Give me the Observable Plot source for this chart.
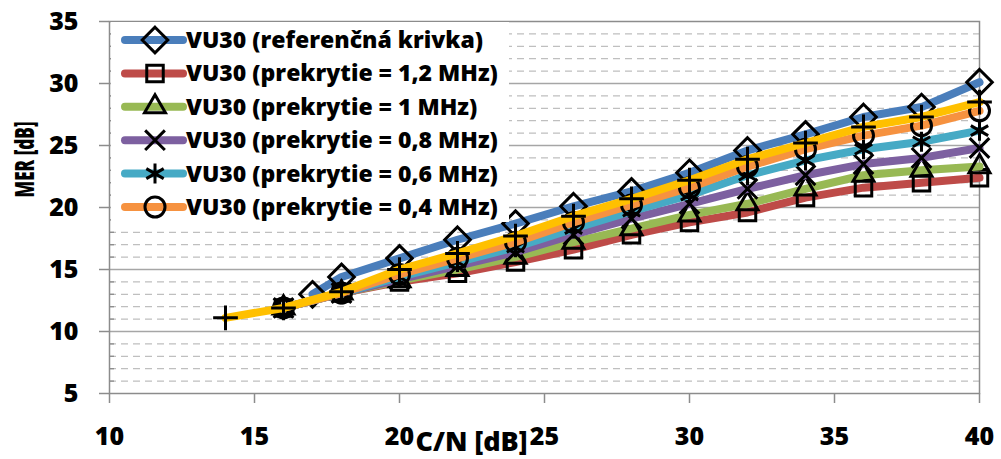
<!DOCTYPE html>
<html><head><meta charset="utf-8">
<script src="https://cdn.jsdelivr.net/npm/d3@7"></script>
<script src="https://cdn.jsdelivr.net/npm/@observablehq/plot@0.6"></script>
<style>
body{margin:0;background:#fff;}
#wrap{position:relative;width:1001px;height:459px;font-family:"Open Sans",sans-serif;font-weight:700;}
#legend{position:absolute;left:111px;top:22px;width:398px;height:200px;background:#fff;}
</style></head><body><div id="wrap"><div id="legend"></div></div>
<script>
// ---- data ----
const seriesNames = [
  "VU30 (referenčná krivka)",
  "VU30 (prekrytie = 1,2 MHz)",
  "VU30 (prekrytie = 1 MHz)",
  "VU30 (prekrytie = 0,8 MHz)",
  "VU30 (prekrytie = 0,6 MHz)",
  "VU30 (prekrytie = 0,4 MHz)",
  "VU30 (séria 7)"
];
const inLegend = [true, true, true, true, true, true, false];
const seriesColors = ["#4a7ebb", "#be4b48", "#98b954", "#7d60a0", "#46aac5", "#f69240", "#ffc000"];
const seriesSymbols = ["diamond2", "square2", "triangle2", "times", "asterisk", "circle", "plus"];

const cnRef   = [17, 18, 20, 22, 24, 26, 28, 30, 32, 34, 36, 38, 40];
const merRef  = [13.0, 14.4, 15.9, 17.4, 18.7, 20.1, 21.3, 22.8, 24.6, 25.9, 27.3, 28.1, 30.1];
const cnOver  = [16, 18, 20, 22, 24, 26, 28, 30, 32, 34, 36, 38, 40];
const mer12   = [11.9, 13.1, 14.0, 14.7, 15.6, 16.6, 17.8, 18.8, 19.6, 20.8, 21.6, 22.0, 22.4];
const mer10   = [11.9, 13.1, 14.1, 15.0, 16.0, 17.2, 18.3, 19.4, 20.3, 21.5, 22.6, 23.0, 23.3];
const mer08   = [11.9, 13.1, 14.2, 15.3, 16.4, 17.8, 19.1, 20.3, 21.5, 22.6, 23.5, 24.0, 24.8];
const mer06   = [11.9, 13.1, 14.4, 15.6, 16.8, 18.3, 19.7, 21.0, 22.6, 23.8, 24.7, 25.3, 26.2];
const mer04   = [11.9, 13.1, 14.6, 15.9, 17.2, 18.8, 20.2, 21.6, 23.3, 24.7, 25.8, 26.6, 27.8];
const cn7     = [14, 16, 18, 20, 22, 24, 26, 28, 30, 32, 34, 36, 38, 40];
const mer7    = [11.1, 11.9, 13.2, 15.0, 16.3, 17.7, 19.3, 20.7, 22.2, 23.9, 25.2, 26.5, 27.3, 28.5];

const xTicks = [10, 15, 20, 25, 30, 35, 40];
const yTicks = [5, 10, 15, 20, 25, 30, 35];
const yMinor = [6,7,8,9,11,12,13,14,16,17,18,19,21,22,23,24,26,27,28,29,31,32,33,34];
const yMajorGrid = [10, 15, 20, 25, 30];
const xLabel = "C/N [dB]";
const yLabel = "MER [dB]";

// ---- build table ----
const seriesX = [cnRef, cnOver, cnOver, cnOver, cnOver, cnOver, cn7];
const seriesY = [merRef, mer12, mer10, mer08, mer06, mer04, mer7];
const markerR = [11.5, 10.5, 10, 9, 9.5, 10, 8];
const series = seriesNames.map((name, i) => seriesX[i].map((x, j) => ({series: name, x, y: seriesY[i][j]})));

const marks = [
  Plot.ruleY(yMinor, {stroke: "#bfbfbf", strokeWidth: 1.3, strokeDasharray: "7,5"}),
  Plot.ruleY(yMajorGrid, {stroke: "#a6a6a6", strokeWidth: 1.5}),
  Plot.frame({stroke: "#8c8c8c", strokeWidth: 1.5}),
  Plot.axisX({ticks: xTicks, tickSize: 10, tickPadding: 24, stroke: "#8c8c8c", strokeWidth: 1.5, fill: "#000", label: null, tickFormat: d => d, fontSize: 25, fontWeight: 800}),
  Plot.axisY({ticks: yTicks, tickSize: 10, tickPadding: 21, stroke: "#8c8c8c", strokeWidth: 1.5, fill: "#000", label: null, tickFormat: d => d, fontSize: 25, fontWeight: 800}),
  Plot.axisY({ticks: yMinor, tickSize: -5, stroke: "#8c8c8c", strokeWidth: 1.3, text: null, label: null})
];
series.forEach((data, i) => {
  marks.push(Plot.line(data, {x: "x", y: "y", stroke: seriesColors[i], strokeWidth: 8, strokeLinejoin: "round", strokeLinecap: "round"}));
  marks.push(Plot.dot(data, {x: "x", y: "y", symbol: seriesSymbols[i], r: markerR[i], stroke: "#000", strokeWidth: 3, fill: "none"}));
});
marks.push(Plot.text([xLabel], {frameAnchor: "bottom", dx: -73, dy: 57, fontSize: 27, fontWeight: 800, fill: "#000"}));
marks.push(Plot.text([yLabel], {frameAnchor: "left", dx: -84, dy: -10, rotate: -90, fontSize: 27, fontWeight: 800, fill: "#000"}));

const chart = Plot.plot({
  width: 1001, height: 459,
  marginLeft: 109, marginRight: 22, marginTop: 21, marginBottom: 66,
  x: {domain: [10, 40]},
  y: {domain: [5, 35]},
  style: {fontFamily: "'Open Sans', sans-serif", fontWeight: 800, fontSize: "25px", color: "#000", background: "#fff"},
  marks
});
// the reference image is stretched horizontally: compress the rotated title along its length
chart.querySelectorAll("text").forEach(t => {
  if (t.textContent === yLabel) {
    t.setAttribute("textLength", 76);
    t.setAttribute("lengthAdjust", "spacingAndGlyphs");
  }
});
const wrap = document.getElementById("wrap");
wrap.insertBefore(chart, wrap.firstChild);

// ---- legend ----
const ns = "http://www.w3.org/2000/svg";
const lsvg = document.createElementNS(ns, "svg");
lsvg.setAttribute("width", 398); lsvg.setAttribute("height", 200);
lsvg.style.fontFamily = "'Open Sans', sans-serif";
const symMap = {diamond2: d3.symbolDiamond2, square2: d3.symbolSquare2, triangle2: d3.symbolTriangle2, times: d3.symbolTimes, asterisk: d3.symbolAsterisk, circle: d3.symbolCircle, plus: d3.symbolPlus};
let row = 0;
seriesNames.forEach((name, i) => {
  if (!inLegend[i]) return;
  const cy = 18 + row * 33.4;
  const g = document.createElementNS(ns, "g");
  g.innerHTML =
    `<line x1="14" x2="72" y1="${cy}" y2="${cy}" stroke="${seriesColors[i]}" stroke-width="8" stroke-linecap="round"/>` +
    `<path transform="translate(44,${cy})" d="${d3.symbol(symMap[seriesSymbols[i]], Math.PI * markerR[i] * markerR[i])()}" fill="none" stroke="#000" stroke-width="3"/>` +
    `<text x="75" y="${cy}" dy="0.35em" font-size="23" font-weight="800" fill="#000">${name}</text>`;
  lsvg.appendChild(g);
  row++;
});
document.getElementById("legend").appendChild(lsvg);
</script>
</body></html>
